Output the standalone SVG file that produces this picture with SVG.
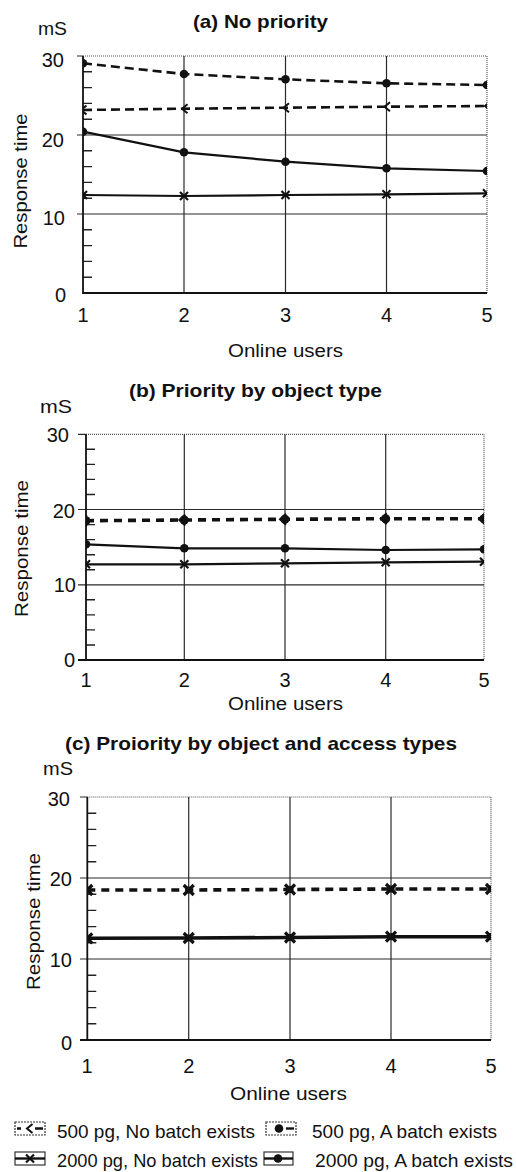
<svg xmlns="http://www.w3.org/2000/svg" width="516" height="1172" viewBox="0 0 516 1172">
<style>
text{font-family:"Liberation Sans",Arial,Helvetica,sans-serif;fill:#111}
.ttl{font-weight:bold;font-size:19px}
.lab{font-size:18px}
.num{font-size:20px}
.yl{font-size:19px;text-anchor:middle}
.leg{font-size:19px}
.axis{stroke:#111;stroke-width:1.8;fill:none}
.grid{stroke:#2a2a2a;stroke-width:1.2;fill:none}
.brd{stroke:#555;stroke-width:1.2;stroke-dasharray:1 1;fill:none}
.tick{stroke:#222;stroke-width:1.4;fill:none}
.dsh{stroke:#111;stroke-width:2.6;stroke-dasharray:9 5;fill:none}
.dshb{stroke:#111;stroke-width:3.6;stroke-dasharray:8 6;fill:none}
.sol{stroke:#111;stroke-width:2.2;fill:none}
.solb{stroke:#111;stroke-width:3.6;fill:none}
</style>
<defs>
<circle id="mDot" r="4.3" fill="#111"/>
<path id="mLt" d="M3.5,-4.5 L-2,0 L3.5,4.5" stroke="#111" stroke-width="2" fill="none"/>
<path id="mX" d="M-4,-4 L4,4 M-4,4 L4,-4" stroke="#111" stroke-width="2.2" fill="none"/>
<g id="mDL"><circle r="4.5" fill="#111"/><path d="M1,-5.5 L-5,0 L1,5.5" stroke="#111" stroke-width="2" fill="none"/></g>
<g id="mStar"><path d="M-5,-5 L5,5 M-5,5 L5,-5" stroke="#111" stroke-width="3.2" fill="none"/><circle r="3.6" fill="#111"/></g>
<clipPath id="clipA"><rect x="83" y="56" width="404" height="237"/></clipPath>
<clipPath id="clipB"><rect x="86" y="434" width="398" height="226"/></clipPath>
<clipPath id="clipC"><rect x="87" y="797" width="404" height="243"/></clipPath>
</defs>

<g id="chart-a">
<text class="ttl" x="193" y="28" textLength="135" lengthAdjust="spacingAndGlyphs">(a) No priority</text>
<text class="lab" x="38" y="35" textLength="29" lengthAdjust="spacingAndGlyphs">mS</text>
<text class="yl" transform="translate(27,181) rotate(-90)" textLength="135" lengthAdjust="spacingAndGlyphs">Response time</text>
<g class="num" text-anchor="end">
<text x="64" y="67">30</text><text x="64" y="147">20</text><text x="65" y="225">10</text><text x="66" y="302">0</text>
</g>
<g class="num" text-anchor="middle">
<text x="83" y="322">1</text><text x="184" y="322">2</text><text x="285.5" y="322">3</text><text x="386.5" y="322">4</text><text x="487" y="322">5</text>
</g>
<text class="lab" x="285.5" y="357" text-anchor="middle" textLength="115" lengthAdjust="spacingAndGlyphs">Online users</text>
<path class="brd" d="M83,56 H487 V293"/>
<path class="grid" d="M77,56 H83 M77,135 H487 M77,214 H487 M184,56 V293 M285.5,56 V293 M386.5,56 V293"/>
<path class="tick" d="M83,277.2 h9 M83,261.4 h9 M83,245.6 h9 M83,229.8 h9 M83,198.2 h9 M83,182.4 h9 M83,166.6 h9 M83,150.8 h9 M83,119.2 h9 M83,103.4 h9 M83,87.6 h9 M83,71.8 h9"/>
<path class="axis" d="M83,56 V293 H487"/>
<g id="series-a" clip-path="url(#clipA)">
<path class="dsh" d="M83,63.3 L184,74 L285.5,79.3 L386.5,83.3 L487,85"/>
<path class="dsh" d="M83,110 L184,108.7 L285.5,107.7 L386.5,106.7 L487,106"/>
<path class="sol" d="M83,131.7 L184,152.3 L285.5,161.7 L386.5,168.3 L487,171"/>
<path class="sol" d="M83,195 L184,196 L285.5,195 L386.5,194.3 L487,193.3"/>
<use href="#mDot" x="83" y="63.3"/><use href="#mDot" x="184" y="74"/><use href="#mDot" x="285.5" y="79.3"/><use href="#mDot" x="386.5" y="83.3"/><use href="#mDot" x="487" y="85"/>
<use href="#mLt" x="83" y="110"/><use href="#mLt" x="184" y="108.7"/><use href="#mLt" x="285.5" y="107.7"/><use href="#mLt" x="386.5" y="106.7"/><use href="#mLt" x="487" y="106"/>
<use href="#mDot" x="83" y="131.7"/><use href="#mDot" x="184" y="152.3"/><use href="#mDot" x="285.5" y="161.7"/><use href="#mDot" x="386.5" y="168.3"/><use href="#mDot" x="487" y="171"/>
<use href="#mX" x="83" y="195"/><use href="#mX" x="184" y="196"/><use href="#mX" x="285.5" y="195"/><use href="#mX" x="386.5" y="194.3"/><use href="#mX" x="487" y="193.3"/>
</g>
</g>

<g id="chart-b">
<text class="ttl" x="129" y="397" textLength="253" lengthAdjust="spacingAndGlyphs">(b) Priority by object type</text>
<text class="lab" x="40" y="413" textLength="32" lengthAdjust="spacingAndGlyphs">mS</text>
<text class="yl" transform="translate(28,548.5) rotate(-90)" textLength="137" lengthAdjust="spacingAndGlyphs">Response time</text>
<g class="num" text-anchor="end">
<text x="69" y="442">30</text><text x="75" y="518">20</text><text x="76" y="592">10</text><text x="75" y="667">0</text>
</g>
<g class="num" text-anchor="middle">
<text x="86" y="687">1</text><text x="184.3" y="687">2</text><text x="285" y="687">3</text><text x="385.7" y="687">4</text><text x="484" y="687">5</text>
</g>
<text class="lab" x="285.5" y="710" text-anchor="middle" textLength="115" lengthAdjust="spacingAndGlyphs">Online users</text>
<path class="brd" d="M86,434.3 H484 V660"/>
<path class="grid" d="M78,434.3 H86 M78,509.5 H484 M78,584.8 H484 M184.3,434.3 V660 M285,434.3 V660 M385.7,434.3 V660"/>
<path class="tick" d="M86,645 h9 M86,629.9 h9 M86,614.9 h9 M86,599.8 h9 M86,569.7 h9 M86,554.7 h9 M86,539.6 h9 M86,524.6 h9 M86,494.5 h9 M86,479.4 h9 M86,464.4 h9 M86,449.3 h9"/>
<path class="axis" d="M78,660 H484 M86,434.3 V660"/>
<g id="series-b" clip-path="url(#clipB)">
<path class="dshb" d="M86,520.7 L184.3,520 L285,519.3 L385.7,518.7 L484,518.7"/>
<path class="sol" d="M86,544.3 L184.3,548.3 L285,548.3 L385.7,550 L484,549.3"/>
<path class="sol" d="M86,564.3 L184.3,564.3 L285,563.3 L385.7,562.3 L484,561.7"/>
<use href="#mDL" x="86" y="520.7"/><use href="#mDL" x="184.3" y="520"/><use href="#mDL" x="285" y="519.3"/><use href="#mDL" x="385.7" y="518.7"/><use href="#mDL" x="484" y="518.7"/>
<use href="#mDot" x="86" y="544.3"/><use href="#mDot" x="184.3" y="548.3"/><use href="#mDot" x="285" y="548.3"/><use href="#mDot" x="385.7" y="550"/><use href="#mDot" x="484" y="549.3"/>
<use href="#mX" x="86" y="564.3"/><use href="#mX" x="184.3" y="564.3"/><use href="#mX" x="285" y="563.3"/><use href="#mX" x="385.7" y="562.3"/><use href="#mX" x="484" y="561.7"/>
</g>
</g>

<g id="chart-c">
<text class="ttl" x="65" y="750" textLength="392" lengthAdjust="spacingAndGlyphs">(c) Proiority by object and access types</text>
<text class="lab" x="43" y="775" textLength="30" lengthAdjust="spacingAndGlyphs">mS</text>
<text class="yl" transform="translate(40,921.5) rotate(-90)" textLength="137" lengthAdjust="spacingAndGlyphs">Response time</text>
<g class="num" text-anchor="end">
<text x="70" y="806">30</text><text x="72" y="886">20</text><text x="72" y="967">10</text><text x="72" y="1050">0</text>
</g>
<g class="num" text-anchor="middle">
<text x="87" y="1073">1</text><text x="188.7" y="1073">2</text><text x="290" y="1073">3</text><text x="391" y="1073">4</text><text x="491" y="1073">5</text>
</g>
<text class="lab" x="288.5" y="1100" text-anchor="middle" textLength="117" lengthAdjust="spacingAndGlyphs">Online users</text>
<path class="brd" d="M87.3,797 H491 V1040"/>
<path class="grid" d="M80,797 H87.3 M80,878 H491 M80,959 H491 M188.7,797 V1040 M290,797 V1040 M391,797 V1040"/>
<path class="tick" d="M87.3,1023.8 h9 M87.3,1007.6 h9 M87.3,991.4 h9 M87.3,975.2 h9 M87.3,942.8 h9 M87.3,926.6 h9 M87.3,910.4 h9 M87.3,894.2 h9 M87.3,861.8 h9 M87.3,845.6 h9 M87.3,829.4 h9 M87.3,813.2 h9"/>
<path class="axis" d="M80,1040 H491 M87.3,797 V1040"/>
<g id="series-c" clip-path="url(#clipC)">
<path class="dshb" d="M87.3,890 L188.7,890 L290,889.5 L391,889 L491,889"/>
<path class="solb" d="M87.3,938.3 L188.7,938 L290,937.5 L391,936.7 L491,936.7"/>
<use href="#mStar" x="87.3" y="890"/><use href="#mStar" x="188.7" y="890"/><use href="#mStar" x="290" y="889.5"/><use href="#mStar" x="391" y="889"/><use href="#mStar" x="491" y="889"/>
<use href="#mStar" x="87.3" y="938.3"/><use href="#mStar" x="188.7" y="938"/><use href="#mStar" x="290" y="937.5"/><use href="#mStar" x="391" y="936.7"/><use href="#mStar" x="491" y="936.7"/>
</g>
</g>

<g id="legend">
<g id="leg-500-nobatch">
<rect x="15" y="1122" width="30" height="13" fill="none" stroke="#333" stroke-width="1.2" stroke-dasharray="2 1"/>
<path d="M17,1128.5 h4 M35,1128.5 h8" stroke="#111" stroke-width="2.4"/>
<use href="#mLt" x="29" y="1128.5"/>
<text class="leg" x="57" y="1138" textLength="198" lengthAdjust="spacingAndGlyphs">500 pg, No batch exists</text>
</g>
<g id="leg-500-batch">
<rect x="266" y="1122" width="30" height="13" fill="none" stroke="#333" stroke-width="1.2" stroke-dasharray="2 1"/>
<path d="M286,1128.5 h8" stroke="#111" stroke-width="2.4"/>
<use href="#mDot" x="279" y="1128.5"/>
<text class="leg" x="312" y="1138" textLength="185" lengthAdjust="spacingAndGlyphs">500 pg, A batch exists</text>
</g>
<g id="leg-2000-nobatch">
<rect x="15" y="1152" width="30" height="13" fill="none" stroke="#333" stroke-width="1.2"/>
<path d="M15,1158.5 h30" stroke="#111" stroke-width="2.4"/>
<use href="#mX" x="30" y="1158.5"/>
<text class="leg" x="57" y="1167" textLength="201" lengthAdjust="spacingAndGlyphs">2000 pg, No batch exists</text>
</g>
<g id="leg-2000-batch">
<rect x="264" y="1152" width="29" height="13" fill="none" stroke="#333" stroke-width="1.2"/>
<path d="M264,1158.5 h29" stroke="#111" stroke-width="2.4"/>
<use href="#mDot" x="278" y="1158.5"/>
<text class="leg" x="315" y="1167" textLength="198" lengthAdjust="spacingAndGlyphs">2000 pg, A batch exists</text>
</g>
</g>
</svg>
